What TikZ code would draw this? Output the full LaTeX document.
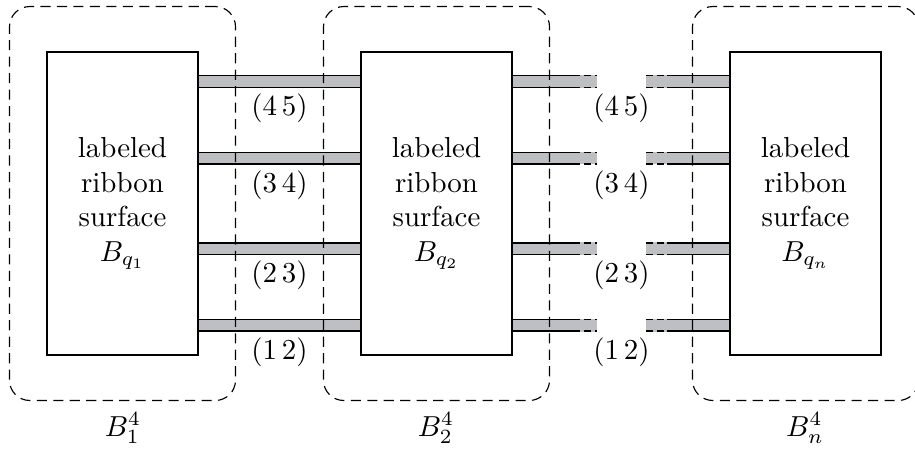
\documentclass[tikz,border=0pt]{standalone}
\usepackage{amsmath}
\usetikzlibrary{positioning}
\definecolor{RibbonCol}{RGB}{190,191,195}
\tikzset{
  surf/.style={draw, line width=0.5pt, inner sep=0pt, minimum width=52.2pt, minimum height=104.8pt, align=center},
  ballbox/.style={draw, dash pattern=on 3.5pt off 2.2pt, rounded corners=7pt, inner sep=0pt, minimum width=78.2pt, minimum height=136.3pt},
  ribbon/.style={double=RibbonCol, double distance=3.5pt, line width=0.5pt},
  ribbondash/.style={ribbon, dash pattern=on 2.4pt off 1.4pt},
  ribbonfill/.style={RibbonCol, line width=4.4pt}
}

\begin{document}
\begin{tikzpicture}[x=0.346pt, y=-0.346pt]
                \useasboundingbox (0,0) rectangle (915,448);
                % ribbon surfaces
                \node[surf] (s1) at (122.5,203.5){labeled\\ribbon\\surface\\$B_{q_1}$};
                \node[surf] (s2) at (436.5,203.5){labeled\\ribbon\\surface\\$B_{q_2}$};
                \node[surf] (s3) at (805.5,203.5){labeled\\ribbon\\surface\\$B_{q_n}$};
                % where the ribbons break off
                \coordinate (cutL) at (573,0);
                \coordinate (endL) at (597,0);
                \coordinate (endR) at (646,0);
                \coordinate (cutR) at (667,0);
                \foreach \y/\ly/\lab [count=\i] in {81.5/108.5/{4\,5},158/185/{3\,4},248.7/275.7/{2\,3},325.3/352.3/{1\,2}}{
                    \coordinate (r\i) at (0,\y);
                    \draw[ribbon] (s1.east |- r\i) -- (s2.west |- r\i);
                    \draw[ribbonfill] (s2.east |- r\i) -- (endL |- r\i);
                    \draw[ribbonfill] (endR |- r\i) -- (s3.west |- r\i);
                    \draw[ribbon] (s2.east |- r\i) -- (cutL |- r\i);
                    \draw[ribbondash] (cutL |- r\i) -- (endL |- r\i);
                    \draw[ribbondash] (endR |- r\i) -- (cutR |- r\i);
                    \draw[ribbon] (cutR |- r\i) -- (s3.west |- r\i);
                    \node (la\i) at (279.5,\ly){$(\lab)$};
                    \node (lb\i) at (621.5,\ly){$(\lab)$};
                };
                % the 4-balls
                \node[ballbox] (k1) at (s1){};
                \node[ballbox] (k2) at (s2){};
                \node[ballbox] (k3) at (s3){};
                \node (n1) at (123,428){$B^4_1$};
                \node (n2) at (436,428){$B^4_2$};
                \node (n3) at (805,428){$B^4_n$};
             \end{tikzpicture}
\end{document}
